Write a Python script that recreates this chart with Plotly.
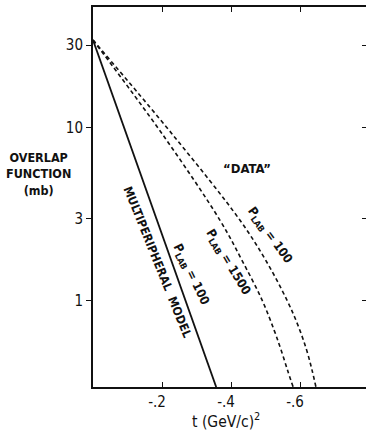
import plotly.graph_objects as go

# ---- data ----
t_multi = [0.0, -0.357]
v_multi = [32.1, 0.318]

t_1500 = [0.0, -0.203, -0.368, -0.432, -0.490, -0.525, -0.545, -0.564, -0.580]
v_1500 = [32.1, 9.06, 2.92, 1.71, 1.01, 0.676, 0.52, 0.396, 0.318]

t_data = [0.0, -0.232, -0.426, -0.501, -0.562, -0.594, -0.619, -0.635, -0.646]
v_data = [32.1, 9.06, 2.92, 1.71, 1.01, 0.722, 0.52, 0.396, 0.318]

x_tickvals = [-0.2, -0.4, -0.6]
x_ticktext = ["-.2", "-.4", "-.6"]
y_tickvals = [1, 3, 10, 30]
y_ticktext = ["1", "3", "10", "30"]

INK = "#111111"
FONT = "DejaVu Sans Condensed, DejaVu Sans, sans-serif"

fig = go.Figure()
fig.add_trace(go.Scatter(x=t_multi, y=v_multi, mode="lines",
                         line=dict(color=INK, width=1.8), showlegend=False))
fig.add_trace(go.Scatter(x=t_1500, y=v_1500, mode="lines",
                         line=dict(color=INK, width=1.6, dash="4px,3px", shape="spline", smoothing=1.0),
                         showlegend=False))
fig.add_trace(go.Scatter(x=t_data, y=v_data, mode="lines",
                         line=dict(color=INK, width=1.6, dash="4px,3px", shape="spline", smoothing=1.0),
                         showlegend=False))
# carrier for the right-hand tick marks
fig.add_trace(go.Scatter(x=[0], y=[1], yaxis="y2", mode="markers",
                         marker=dict(opacity=0), hoverinfo="skip", showlegend=False))

fig.update_layout(
    width=366, height=433,
    margin=dict(l=93, r=0, t=7, b=46, autoexpand=False),
    paper_bgcolor="white", plot_bgcolor="white",
    font=dict(family=FONT, color=INK, size=14),
    xaxis=dict(range=[0, -0.791], showgrid=False, zeroline=False, automargin=False,
               showline=True, linecolor=INK, linewidth=1.6, mirror="ticks",
               ticks="inside", ticklen=5, tickwidth=1.2, tickcolor=INK,
               tickvals=x_tickvals, ticktext=x_ticktext, ticklabelshift=5,
               ticklabelstandoff=0,
               tickfont=dict(size=15, family=FONT)),
    yaxis=dict(type="log", range=[-0.497, 1.697], showgrid=False, zeroline=False,
               automargin=False,
               showline=True, linecolor=INK, linewidth=2, mirror=False,
               ticks="outside", ticklen=5, tickwidth=1.2, tickcolor=INK,
               tickvals=y_tickvals, ticktext=y_ticktext,
               tickfont=dict(size=15, family=FONT)),
    yaxis2=dict(type="log", range=[-0.497, 1.697], overlaying="y", side="right",
                automargin=False,
                showgrid=False, zeroline=False, showline=False,
                ticks="inside", ticklen=4, tickwidth=1.2, tickcolor=INK,
                tickvals=y_tickvals, showticklabels=False),
)

ann = [
    dict(x=-0.186, y=0.223, text="MULTIPERIPHERAL  MODEL", textangle=68, size=12),
    dict(x=-0.284, y=0.153, text="P<sub>LAB</sub> = 100", textangle=64, size=12.5),
    dict(x=-0.392, y=0.223, text="P<sub>LAB</sub> = 1500", textangle=59, size=12.5),
    dict(x=-0.513, y=0.379, text="P<sub>LAB</sub> = 100", textangle=54, size=12.5),
    dict(x=-0.446, y=0.766, text="\u201cDATA\u201d", textangle=0, size=13),
]
for a in ann:
    fig.add_annotation(x=a["x"], y=a["y"], xref="x", yref="y", text=a["text"],
                       textangle=a["textangle"], showarrow=False,
                       xanchor="center", yanchor="middle",
                       font=dict(size=a["size"], family=FONT, color=INK, weight="bold"))

# y title (three lines, horizontal, left of the axis)
fig.add_annotation(x=-0.198, y=0.561, xref="paper", yref="paper",
                   text="OVERLAP<br>FUNCTION<br>(mb)", showarrow=False, align="center",
                   xanchor="center", yanchor="middle",
                   font=dict(size=12.5, family=FONT, color=INK, weight="bold"))
# x title
fig.add_annotation(x=0.487, y=-0.087, xref="paper", yref="paper",
                   text="t (GeV/c)<sup>2</sup>", showarrow=False,
                   xanchor="center", yanchor="middle",
                   font=dict(size=15.5, family=FONT, color=INK))

fig.write_html("out.html", config={"displayModeBar": False},
               post_script="document.body.style.margin='0';document.body.style.overflow='hidden';")
